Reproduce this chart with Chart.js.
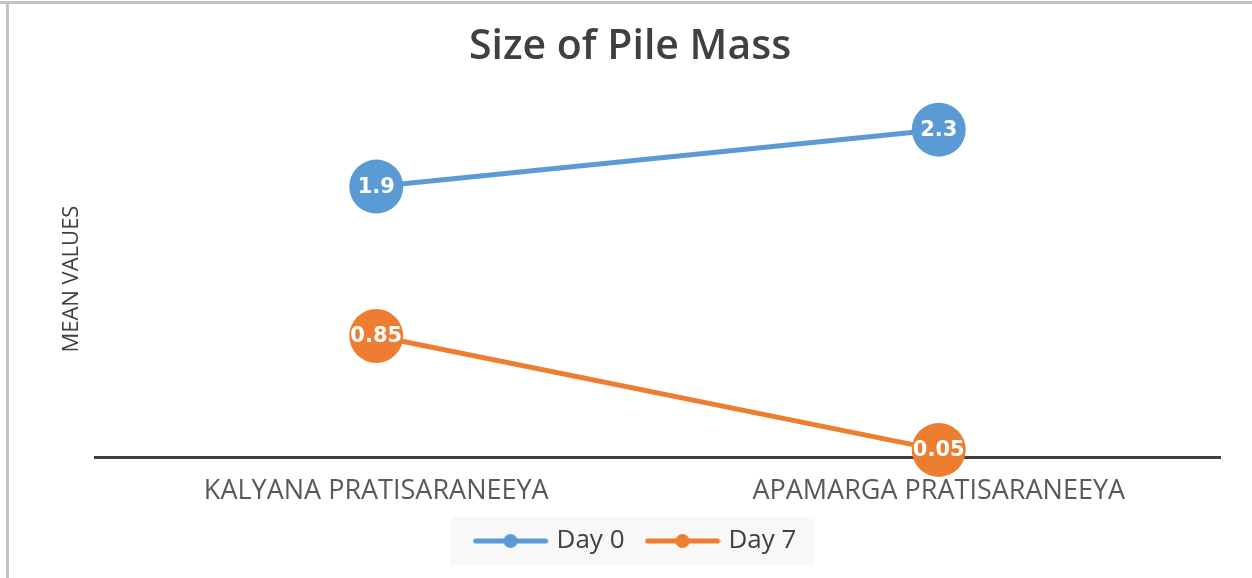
<!DOCTYPE html>
<html><head><meta charset="utf-8">
<script src="https://cdn.jsdelivr.net/npm/chart.js@4.4.1/dist/chart.umd.min.js"></script>
<style>html,body{margin:0;padding:0;background:#fff;overflow:hidden}</style>
</head><body>
<canvas id="c" width="1252" height="578" style="width:1252px;height:578px;display:block"></canvas>
<script>
const categories = ['KALYANA PRATISARANEEYA', 'APAMARGA PRATISARANEEYA'];
const day0 = [1.9, 2.3];
const day7 = [0.85, 0.05];
const seriesNames = ['Day 0', 'Day 7'];
const colors = ['#5B9BD5', '#ED7D31'];
const chartTitle = 'Size of Pile Mass';
const yTitle = 'MEAN VALUES';

function legendSymbol(color) {
  const c = document.createElement('canvas');
  c.width = 76; c.height = 16;
  const g = c.getContext('2d');
  g.strokeStyle = color; g.lineWidth = 5; g.lineCap = 'round';
  g.beginPath(); g.moveTo(3, 8); g.lineTo(73, 8); g.stroke();
  g.fillStyle = color; g.beginPath(); g.arc(38, 8, 7, 0, Math.PI * 2); g.fill();
  return c;
}
const symbols = colors.map(legendSymbol);

const shiftPlugin = {
  id: 'shift',
  afterLayout(chart) {
    if (chart.titleBlock) chart.titleBlock.left += 8;
    if (chart.legend) chart.legend.left += 22;
  }
};

const framePlugin = {
  id: 'frame',
  beforeDraw(chart) {
    const ctx = chart.ctx;
    ctx.save();
    ctx.fillStyle = '#ffffff';
    ctx.fillRect(0, 0, chart.width, chart.height);
    ctx.fillStyle = '#c4c4c4';
    ctx.fillRect(0, 1, chart.width, 3);
    ctx.fillRect(6, 1, 3, chart.height);
    const hb = chart.legend && chart.legend.legendHitBoxes;
    if (hb && hb.length) {
      const l = Math.min(...hb.map(h => h.left));
      const r = Math.max(...hb.map(h => h.left + h.width));
      const t = Math.min(...hb.map(h => h.top));
      const b = Math.max(...hb.map(h => h.top + h.height));
      ctx.fillStyle = '#f8f8f8';
      ctx.fillRect(l - 27, t - 11, (r - l) + 45, (b - t) + 22);
    }
    ctx.restore();
  }
};

const labelPlugin = {
  id: 'pointLabels',
  afterDatasetsDraw(chart) {
    const ctx = chart.ctx;
    ctx.save();
    ctx.font = 'bold 21px "DejaVu Sans"';
    ctx.fillStyle = '#ffffff';
    ctx.textAlign = 'center';
    ctx.textBaseline = 'middle';
    chart.data.datasets.forEach((ds, i) => {
      chart.getDatasetMeta(i).data.forEach((pt, j) => {
        ctx.fillText(String(ds.data[j]), pt.x, pt.y + 1);
      });
    });
    ctx.restore();
  }
};

new Chart(document.getElementById('c'), {
  type: 'line',
  data: {
    labels: categories,
    datasets: [
      { label: seriesNames[0], data: day0, borderColor: colors[0], backgroundColor: colors[0],
        pointBackgroundColor: colors[0], pointBorderWidth: 0, pointRadius: 27, borderWidth: 5, tension: 0, clip: false,
        pointStyle: 'circle', yAxisID: 'y' },
      { label: seriesNames[1], data: day7, borderColor: colors[1], backgroundColor: colors[1],
        pointBackgroundColor: colors[1], pointBorderWidth: 0, pointRadius: 27, borderWidth: 5, tension: 0, clip: false,
        pointStyle: 'circle', yAxisID: 'y' }
    ]
  },
  options: {
    responsive: false,
    animation: false,
    devicePixelRatio: 1,
    layout: { padding: { left: 0, right: 0, top: 0, bottom: 14 } },
    plugins: {
      tooltip: { enabled: false },
      title: {
        display: true, text: chartTitle, color: '#404040',
        font: { family: '"Open Sans"', size: 41, weight: '600' },
        padding: { top: 23, bottom: 29 }
      },
      legend: {
        position: 'bottom',
        labels: {
          usePointStyle: true, pointStyleWidth: 66, padding: 25, color: '#404040',
          font: { family: '"Open Sans"', size: 26 },
          generateLabels(chart) {
            return chart.data.datasets.map((ds, i) => ({
              text: ds.label, pointStyle: symbols[i], fillStyle: colors[i], strokeStyle: colors[i],
              lineWidth: 0, hidden: false, datasetIndex: i, fontColor: '#404040'
            }));
          }
        }
      }
    },
    scales: {
      x: {
        offset: true,
        grid: { display: false, drawTicks: false },
        border: { display: true, color: '#404040', width: 3 },
        ticks: { color: '#595959', padding: 18, font: { family: '"Open Sans"', size: 27 } },
        afterFit(s) { s.height = 46; }
      },
      y: {
        min: 0, max: 2.5,
        grid: { display: false, drawTicks: false },
        border: { display: false },
        ticks: { display: false },
        title: { display: true, text: yTitle, color: '#404040', padding: { top: 59 },
          font: { family: '"Open Sans"', size: 22 } },
        afterFit(s) { s.width = 95; }
      },
      yRight: {
        position: 'right',
        min: 0, max: 2.5,
        grid: { display: false, drawTicks: false },
        border: { display: false },
        ticks: { display: false },
        afterFit(s) { s.width = 32; }
      }
    }
  },
  plugins: [shiftPlugin, framePlugin, labelPlugin]
});
</script>
</body></html>
